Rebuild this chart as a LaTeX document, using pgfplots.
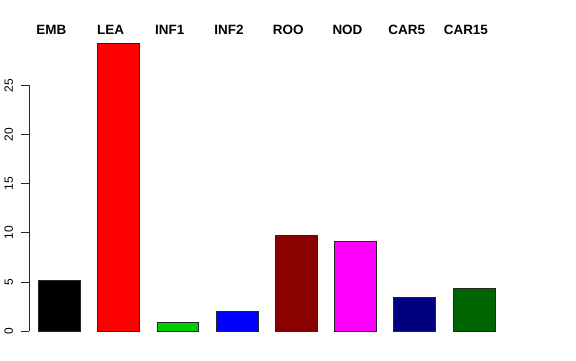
\documentclass[border=0pt]{standalone}
\usepackage{pgfplots}
\pgfplotsset{compat=1.18}
\usepackage{fontspec}
\setmainfont{Liberation Sans}
\definecolor{cEMB}{HTML}{000000}
\definecolor{cLEA}{HTML}{FF0000}
\definecolor{cINFa}{HTML}{00CD00}
\definecolor{cINFb}{HTML}{0000FF}
\definecolor{cROO}{HTML}{8B0000}
\definecolor{cNOD}{HTML}{FF00FF}
\definecolor{cCARa}{HTML}{000080}
\definecolor{cCARb}{HTML}{006400}
\begin{document}
\begin{tikzpicture}[x=1bp,y=1bp]
\path[use as bounding box] (0,0) rectangle (576,360);
\begin{axis}[
  at={(29bp,29bp)}, anchor=south west,
  scale only axis, width=475.2bp, height=245.5bp,
  xmin=-0.5116, xmax=7.5116, ymin=0, ymax=25,
  enlargelimits=false, clip=false,
  axis x line=none, axis y line*=left,
  ytick={0,5,10,15,20,25},
  ytick align=outside, major tick length=7.5bp,
  y axis line style={line width=0.7bp, black!85},
  ytick style={line width=0.7bp, black!85},
  yticklabel shift=8.7bp,
  yticklabel style={rotate=90, anchor=base, inner sep=0pt, font=\fontsize{12}{12}\selectfont},
  /pgf/number format/assume math mode=true,
  ybar, bar width=0.706,
  every axis plot/.append style={draw=black!85, line width=0.6bp, bar shift=0pt},
]
\addplot[fill=cEMB] coordinates {(0,5.16)};
\addplot[fill=cLEA] coordinates {(1,29.33)};
\addplot[fill=cINFa] coordinates {(2,0.85)};
\addplot[fill=cINFb] coordinates {(3,1.97)};
\addplot[fill=cROO] coordinates {(4,9.70)};
\addplot[fill=cNOD] coordinates {(5,9.10)};
\addplot[fill=cCARa] coordinates {(6,3.43)};
\addplot[fill=cCARb] coordinates {(7,4.31)};
\tikzset{toplab/.style={anchor=base, font=\bfseries\fontsize{13.5}{14}\selectfont, inner sep=0pt}}
\node[toplab] at (axis cs:-0.135,30.21) {EMB};
\node[toplab] at (axis cs:0.865,30.21) {LEA};
\node[toplab] at (axis cs:1.865,30.21) {INF1};
\node[toplab] at (axis cs:2.865,30.21) {INF2};
\node[toplab] at (axis cs:3.865,30.21) {ROO};
\node[toplab] at (axis cs:4.865,30.21) {NOD};
\node[toplab] at (axis cs:5.865,30.21) {CAR5};
\node[toplab] at (axis cs:6.865,30.21) {CAR15};
\end{axis}
\end{tikzpicture}
\end{document}
